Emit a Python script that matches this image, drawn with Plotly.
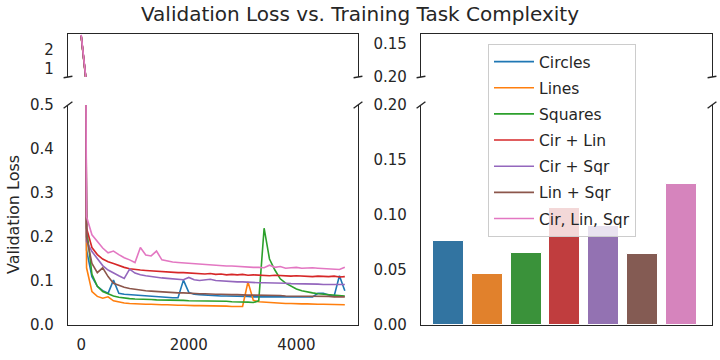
import plotly.graph_objects as go

# training step at which validation was run
steps = [0, 100, 200, 300, 400, 500, 600, 700, 800, 900,
         1000, 1100, 1200, 1300, 1400, 1500, 1600, 1700, 1800, 1900,
         2000, 2100, 2200, 2300, 2400, 2500, 2600, 2700, 2800, 2900,
         3000, 3100, 3200, 3300, 3400, 3500, 3600, 3700, 3800, 3900,
         4000, 4100, 4200, 4300, 4400, 4500, 4600, 4700, 4800, 4900]

circles = [2.68, 0.170, 0.110, 0.088, 0.078, 0.072, 0.102, 0.072, 0.070, 0.069,
           0.068, 0.067, 0.066, 0.065, 0.065, 0.064, 0.063, 0.062, 0.062, 0.102,
           0.074, 0.070, 0.069, 0.068, 0.067, 0.067, 0.066, 0.066, 0.066, 0.065,
           0.065, 0.065, 0.064, 0.064, 0.064, 0.064, 0.064, 0.063, 0.063, 0.063,
           0.063, 0.063, 0.063, 0.064, 0.072, 0.072, 0.068, 0.065, 0.112, 0.078]

lines = [2.66, 0.130, 0.076, 0.065, 0.061, 0.064, 0.055, 0.052, 0.050, 0.049,
         0.048, 0.048, 0.047, 0.047, 0.046, 0.046, 0.046, 0.045, 0.045, 0.045,
         0.044, 0.044, 0.044, 0.044, 0.043, 0.043, 0.043, 0.043, 0.042, 0.042,
         0.042, 0.098, 0.056, 0.053, 0.052, 0.051, 0.050, 0.050, 0.049, 0.049,
         0.048, 0.048, 0.048, 0.047, 0.047, 0.047, 0.047, 0.046, 0.046, 0.046]

squares = [2.67, 0.220, 0.115, 0.088, 0.076, 0.071, 0.066, 0.063, 0.061, 0.060,
           0.059, 0.059, 0.058, 0.058, 0.057, 0.057, 0.057, 0.056, 0.056, 0.056,
           0.055, 0.055, 0.055, 0.055, 0.054, 0.054, 0.054, 0.054, 0.053, 0.053,
           0.053, 0.052, 0.051, 0.055, 0.220, 0.150, 0.125, 0.105, 0.095, 0.088,
           0.082, 0.078, 0.075, 0.073, 0.071, 0.070, 0.069, 0.068, 0.067, 0.066]

cir_lin = [2.70, 0.220, 0.176, 0.160, 0.150, 0.144, 0.140, 0.135, 0.131, 0.128,
           0.126, 0.125, 0.124, 0.123, 0.122, 0.121, 0.120, 0.119, 0.119, 0.119,
           0.118, 0.117, 0.117, 0.116, 0.117, 0.115, 0.116, 0.114, 0.115, 0.114,
           0.115, 0.113, 0.114, 0.113, 0.113, 0.112, 0.113, 0.112, 0.112, 0.111,
           0.112, 0.111, 0.111, 0.110, 0.111, 0.110, 0.110, 0.111, 0.109, 0.110]

cir_sqr = [2.69, 0.190, 0.167, 0.150, 0.135, 0.125, 0.118, 0.112, 0.106, 0.127,
           0.118, 0.114, 0.112, 0.110, 0.108, 0.107, 0.106, 0.105, 0.104, 0.103,
           0.108, 0.103, 0.101, 0.102, 0.104, 0.101, 0.100, 0.099, 0.099, 0.098,
           0.098, 0.097, 0.097, 0.096, 0.096, 0.096, 0.095, 0.095, 0.095, 0.094,
           0.094, 0.094, 0.093, 0.093, 0.093, 0.092, 0.092, 0.092, 0.091, 0.092]

lin_sqr = [2.71, 0.200, 0.140, 0.119, 0.130, 0.110, 0.095, 0.090, 0.086, 0.083,
           0.081, 0.079, 0.078, 0.077, 0.076, 0.075, 0.075, 0.074, 0.073, 0.073,
           0.072, 0.072, 0.071, 0.071, 0.070, 0.070, 0.070, 0.069, 0.069, 0.069,
           0.068, 0.068, 0.068, 0.068, 0.067, 0.067, 0.067, 0.067, 0.066, 0.066,
           0.066, 0.066, 0.065, 0.065, 0.065, 0.065, 0.065, 0.064, 0.064, 0.064]

cir_lin_sqr = [2.74, 0.246, 0.205, 0.190, 0.175, 0.164, 0.168, 0.160, 0.153, 0.148,
               0.142, 0.176, 0.159, 0.157, 0.168, 0.148, 0.145, 0.143, 0.142, 0.141,
               0.140, 0.139, 0.138, 0.137, 0.136, 0.136, 0.135, 0.134, 0.134, 0.133,
               0.133, 0.132, 0.131, 0.131, 0.130, 0.136, 0.131, 0.133, 0.129, 0.130,
               0.131, 0.129, 0.130, 0.130, 0.129, 0.128, 0.128, 0.127, 0.126, 0.131]

labels = ["Circles", "Lines", "Squares", "Cir + Lin", "Cir + Sqr", "Lin + Sqr", "Cir, Lin, Sqr"]
series = [circles, lines, squares, cir_lin, cir_sqr, lin_sqr, cir_lin_sqr]
final_loss = [0.0767, 0.0460, 0.0658, 0.1067, 0.0903, 0.0642, 0.1285]

line_colors = ["#1f77b4", "#ff7f0e", "#2ca02c", "#d62728", "#9467bd", "#8c564b", "#e377c2"]
bar_colors = ["#3274a1", "#e1812c", "#3a923a", "#c03d3e", "#9372b2", "#845b53", "#d684bd"]

W, H = 720, 360
INK = "#262626"
FONT = "DejaVu Sans"


def fx(px):
    return px / W


def fy(py):
    return 1 - py / H


fig = go.Figure()

for i, (lab, ys) in enumerate(zip(labels, series)):
    fig.add_trace(go.Scatter(x=steps, y=ys, mode="lines", name=lab,
                             line=dict(color=line_colors[i], width=1.6),
                             legendgroup=lab, xaxis="x", yaxis="y"))
    fig.add_trace(go.Scatter(x=steps, y=ys, mode="lines", name=lab,
                             line=dict(color=line_colors[i], width=1.6),
                             legendgroup=lab, showlegend=False, xaxis="x2", yaxis="y2"))

bar_pos = list(range(len(labels)))
for xa, ya in [("x3", "y3"), ("x4", "y4")]:
    fig.add_trace(go.Bar(x=bar_pos, y=final_loss, width=0.8,
                         marker=dict(color=bar_colors, line=dict(color="white", width=1)),
                         showlegend=False, xaxis=xa, yaxis=ya))

left = [fx(68), fx(358)]
right = [fx(421), fx(712)]
low = [fy(325), fy(105)]
high = [fy(77), fy(34)]

ax_common = dict(showgrid=False, zeroline=False, showline=True, linecolor=INK,
                 linewidth=1.25, ticks="", automargin=False,
                 tickfont=dict(family=FONT, size=15, color=INK))

fig.update_layout(
    xaxis=dict(domain=left, anchor="y", range=[-245, 5145], tickvals=[0, 2000, 4000],
               ticklabelstandoff=6, **ax_common),
    yaxis=dict(domain=low, anchor="x", range=[0, 0.5], tickvals=[0, 0.1, 0.2, 0.3, 0.4, 0.5],
               tickformat=".1f", mirror=True, ticklabelstandoff=10, **ax_common),
    xaxis2=dict(domain=left, anchor="y2", range=[-245, 5145], side="top",
                showticklabels=False, **ax_common),
    yaxis2=dict(domain=high, anchor="x2", range=[0.6, 2.78], tickvals=[1, 2],
                mirror=True, ticklabelstandoff=10, **ax_common),
    xaxis3=dict(domain=right, anchor="y3", range=[-0.72, 6.8], showticklabels=False, **ax_common),
    yaxis3=dict(domain=low, anchor="x3", range=[0, 0.2], tickvals=[0, 0.05, 0.1, 0.15, 0.2],
                tickformat=".2f", mirror=True, ticklabelstandoff=10, **ax_common),
    xaxis4=dict(domain=right, anchor="y4", range=[-0.72, 6.8], side="top",
                showticklabels=False, **ax_common),
    yaxis4=dict(domain=high, anchor="x4", range=[0.2, 0.135], tickvals=[0.15, 0.2],
                tickformat=".2f", mirror=True, ticklabelstandoff=10, **ax_common),
)

# diagonal break marks at the cut between the upper and lower panels
shapes = []
for xp in [68, 358, 421, 712]:
    shapes.append(dict(type="line", xref="paper", yref="paper",
                       x0=fx(xp - 4.4), y0=fy(77.7), x1=fx(xp + 4.4), y1=fy(76.3),
                       line=dict(color=INK, width=1.4)))
    shapes.append(dict(type="line", xref="paper", yref="paper",
                       x0=fx(xp - 4.4), y0=fy(108.3), x1=fx(xp + 4.4), y1=fy(101.7),
                       line=dict(color=INK, width=1.4)))

fig.update_layout(
    width=W, height=H,
    margin=dict(l=0, r=0, t=0, b=0),
    paper_bgcolor="white", plot_bgcolor="white",
    font=dict(family=FONT, size=15, color=INK),
    title=dict(text="Validation Loss vs. Training Task Complexity", x=0.5, xanchor="center",
               y=fy(14), yanchor="middle", font=dict(family=FONT, size=20, color=INK)),
    shapes=shapes,
    showlegend=True,
    legend=dict(x=fx(488), y=fy(44), xanchor="left", yanchor="top",
                bgcolor="rgba(255,255,255,0.8)", bordercolor="#cccccc", borderwidth=1,
                font=dict(family=FONT, size=15.5, color=INK),
                traceorder="grouped", tracegroupgap=3, itemwidth=40),
    annotations=[dict(text="Validation Loss", xref="paper", yref="paper",
                      x=fx(13), y=fy(215), textangle=-90, showarrow=False,
                      xanchor="center", yanchor="middle",
                      font=dict(family=FONT, size=16, color=INK))],
    bargap=0,
)

# the page body has a default 8px margin; drop it so the figure sits at the window corner
fig.write_html("out.html", config={"displayModeBar": False},
               post_script="document.body.style.margin = '0';")
